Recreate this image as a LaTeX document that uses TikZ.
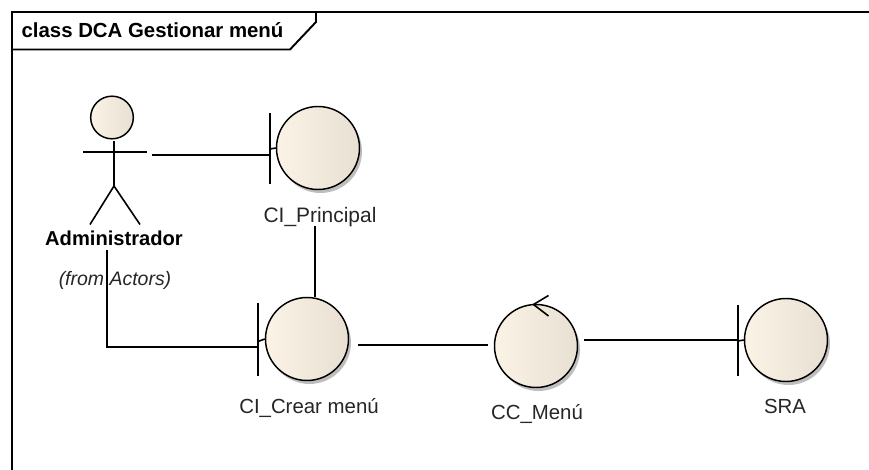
\documentclass[tikz,border=0pt]{standalone}
\usepackage{fontspec}
\setmainfont{Liberation Sans}
\definecolor{inkc}{RGB}{0,0,0}
\definecolor{fillL}{RGB}{250,243,230}
\definecolor{fillR}{RGB}{232,224,210}
\definecolor{shadowc}{RGB}{190,190,190}
\tikzset{
  x=0.75pt,y=-0.75pt,
  ln/.style={draw=inkc,line width=1.2pt,line join=miter},
  frameln/.style={draw=inkc,line width=1.45pt,line join=miter},
  ball/.style={circle,draw=inkc,line width=1.1pt,minimum size=62.25pt,inner sep=0pt,
    left color=fillL,middle color=fillL,right color=fillR},
  ballshade/.style={circle,fill=shadowc,minimum size=62.25pt,inner sep=0pt},
  lbl/.style={font=\fontsize{15.3pt}{18pt}\selectfont,text=black!85,inner sep=0pt,anchor=center},
}
\begin{document}
\begin{tikzpicture}
\useasboundingbox (0,0) rectangle (869,470);
\fill[white] (0,0) rectangle (869,470);
% frame
\coordinate (fTL) at (12,12);
\coordinate (fTR) at (869,12);
\coordinate (fBL) at (12,470);
\draw[frameln] (fTR) -- (fTL) -- (fBL);
\coordinate (tabA) at (12,49.5);
\coordinate (tabB) at (290,49.5);
\coordinate (tabC) at (316,22);
\coordinate (tabD) at (316,12);
\draw[frameln] (tabA) -- (tabB) -- (tabC) -- (tabD);
\node[font=\fontsize{15.3pt}{18pt}\selectfont\bfseries,inner sep=0pt,anchor=center] (title) at (152.5,30.5) {class DCA Gestionar menú};
% shadows
\node[ballshade] at (320.5,151.5) {};
\node[ballshade] at (309.5,342.5) {};
\node[ballshade] at (538.5,349.5) {};
\node[ballshade] at (788.5,343.5) {};
% balls
\node[ball] (prin) at (318,148) {};
\node[ball] (crear) at (307,339) {};
\node[ball] (cc) at (536,346) {};
\node[ball] (sra) at (786,340) {};
% boundary bars
\coordinate (prinT) at (270,113); \coordinate (prinB) at (270,184);
\draw[ln] (prinT) -- (prinB);
\draw[ln] (270,149) -- (prin.west);
\coordinate (crearT) at (258,303); \coordinate (crearB) at (258,376.5);
\draw[ln] (crearT) -- (crearB);
\draw[ln] (258,341.5) -- (crear.west);
\coordinate (sraT) at (738,305); \coordinate (sraB) at (738,376.5);
\draw[ln] (sraT) -- (sraB);
\draw[ln] (738,341) -- (sra.west);
% control arrow
\coordinate (ccTip) at (533.5,304.5);
\coordinate (ccA) at (548.5,295.5);
\coordinate (ccB) at (548.5,316);
\draw[ln] (ccA) -- (ccTip) -- (ccB);
% actor
\node[circle,draw=inkc,line width=1.1pt,minimum size=32pt,inner sep=0pt,left color=fillL,middle color=fillL,right color=fillR] (head) at (112,117.5) {};
\coordinate (neck) at (114,141);
\coordinate (hip) at (114,186);
\draw[ln] (neck) -- (hip);
\coordinate (armL) at (83,152); \coordinate (armR) at (147,152);
\draw[ln] (armL) -- (armR);
\coordinate (legL) at (90,224.5); \coordinate (legR) at (140,224.5);
\draw[ln] (legL) -- (hip) -- (legR);
% labels
\node[lbl,font=\fontsize{15.1pt}{18pt}\selectfont\bfseries,text=black] (adm) at (114,238) {Administrador};
\node[lbl,font=\fontsize{14.6pt}{18pt}\selectfont\itshape] (from) at (115,280) {(from Actors)};
\node[lbl,font=\fontsize{15.7pt}{18pt}\selectfont] (lprin) at (320,217) {CI\_Principal};
\node[lbl] (lcrear) at (309,408) {CI\_Crear menú};
\node[lbl] (lcc) at (537,414.5) {CC\_Menú};
\node[lbl] (lsra) at (785,406) {SRA};
% connectors
\coordinate (c1a) at (152,155);
\coordinate (c1b) at (270,155);
\draw[ln] (c1a) -- (c1b);
\coordinate (c2a) at (315,226);
\coordinate (c2b) at (315,297.5);
\draw[ln] (c2a) -- (c2b);
\coordinate (c3a) at (107,250);
\coordinate (c3b) at (107,347);
\coordinate (c3c) at (258,347);
\draw[ln] (c3a) -- (c3b) -- (c3c);
\coordinate (c4a) at (358,345);
\coordinate (c4b) at (488,345);
\draw[ln] (c4a) -- (c4b);
\coordinate (c5a) at (584,340);
\coordinate (c5b) at (738,340);
\draw[ln] (c5a) -- (c5b);
\end{tikzpicture}
\end{document}
